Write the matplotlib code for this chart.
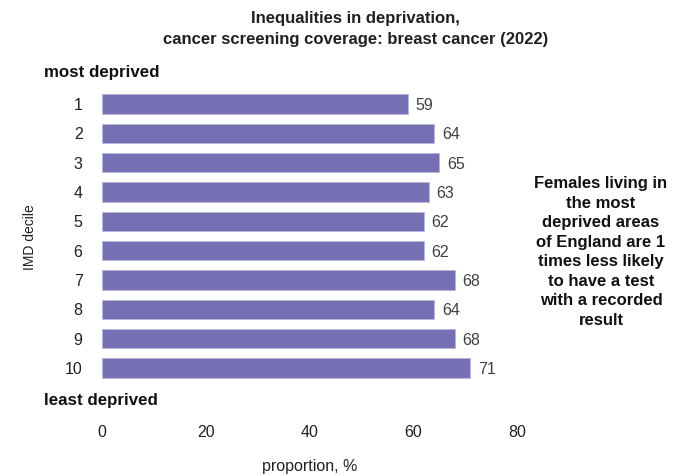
import matplotlib.pyplot as plt
import matplotlib
import numpy as np

matplotlib.rcParams['font.family'] = ['Liberation Sans', 'DejaVu Sans']

deciles = ['1', '2', '3', '4', '5', '6', '7', '8', '9', '10']
values = [59, 64, 65, 63, 62, 62, 68, 64, 68, 71]
title = 'Inequalities in deprivation,\ncancer screening coverage: breast cancer (2022)'
note = ('Females living in\nthe most\ndeprived areas\nof England are 1\n'
        'times less likely\nto have a test\nwith a recorded\nresult')

W, H = 692, 476
fig = plt.figure(figsize=(W / 100, H / 100), dpi=100)
ax = fig.add_axes([102 / W, 1 - 418 / H, 415 / W, (418 - 60) / H])

index = np.arange(len(values))
ax.barh(index, values, height=0.66, color='#7570b3', edgecolor='#b9b6e0', linewidth=0.6)

for i in index:
    ax.text(values[i] + 1.5, i, str(values[i]), va='center_baseline', ha='left',
            fontsize=11.5, color='#404040')

ax.set_xlim(0, 80)
ax.set_ylim(10.7, -1.5)
ax.set_xticks([0, 20, 40, 60, 80])
ax.set_yticks(index, deciles)
ax.tick_params(axis='both', length=0, labelsize=11.5, colors='#202020')
ax.tick_params(axis='x', pad=5)
ax.tick_params(axis='y', pad=14)
for s in ax.spines.values():
    s.set_visible(False)

fig.text(0.5 * (102 + 517) / W, 1 - 466 / H, 'proportion, %', ha='center', va='center',
         fontsize=11.5, color='#202020')
fig.text(30 / W, 1 - 237 / H, 'IMD decile', rotation=90, ha='center', va='center',
         fontsize=10, color='#202020')
fig.text(0.5 * (162 + 549) / W, 1 - 29 / H, title, ha='center', va='center', fontsize=12,
         fontweight='bold', color='#202020', linespacing=1.45)
fig.text(44 / W, 1 - 72 / H, 'most deprived', ha='left', va='center',
         fontsize=12.2, fontweight='bold', color='#111111')
fig.text(44 / W, 1 - 400 / H, 'least deprived', ha='left', va='center',
         fontsize=12.2, fontweight='bold', color='#111111')
fig.text(601 / W, 1 - 252 / H, note, ha='center', va='center', fontsize=12,
         fontweight='bold', color='#111111', linespacing=1.38)

fig.savefig('out.png', dpi=100)
